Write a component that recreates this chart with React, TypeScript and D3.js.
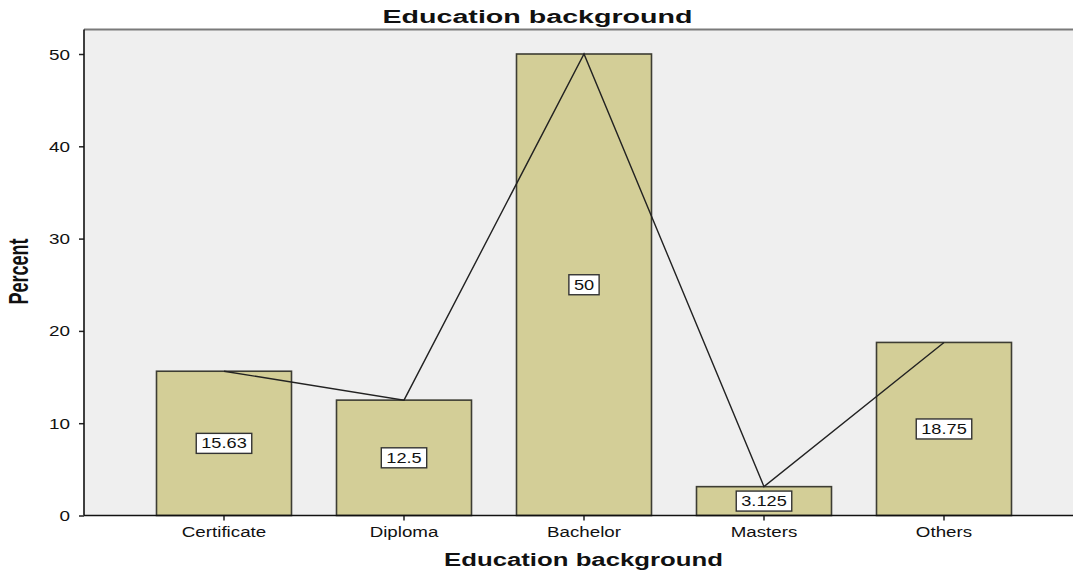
import React, { useEffect, useRef } from "react";
import * as d3 from "d3";

// Education background distribution (percent of respondents)
const categories = ["Certificate", "Diploma", "Bachelor", "Masters", "Others"];
const percents = [15.63, 12.5, 50, 3.125, 18.75];
const valueLabels = ["15.63", "12.5", "50", "3.125", "18.75"];
const yTicks = [0, 10, 20, 30, 40, 50];

const W = 1073;
const H = 571;
const FONT = "'Liberation Sans', Arial, Helvetica, sans-serif";

export default function App() {
  const ref = useRef<SVGSVGElement>(null);

  useEffect(() => {
    const svg = d3.select(ref.current);
    svg.selectAll("*").remove();

    const plot = { left: 84, top: 29.5, right: W, bottom: 515.5 };

    const x = d3
      .scaleBand<string>()
      .domain(categories)
      .range([134, 1034])
      .paddingInner(0.25)
      .paddingOuter(0.125);
    const y = d3.scaleLinear().domain([0, 50]).range([515.5, 54]);

    // plot background
    svg
      .append("rect")
      .attr("x", plot.left)
      .attr("y", plot.top)
      .attr("width", plot.right - plot.left)
      .attr("height", plot.bottom - plot.top)
      .attr("fill", "#efefef");

    // top frame line
    svg
      .append("line")
      .attr("x1", plot.left)
      .attr("x2", plot.right)
      .attr("y1", plot.top)
      .attr("y2", plot.top)
      .attr("stroke", "#7a7a7a")
      .attr("stroke-width", 2);

    const rows = categories.map((c, i) => ({ c, v: percents[i], label: valueLabels[i] }));

    // bars
    svg
      .append("g")
      .selectAll("rect")
      .data(rows)
      .join("rect")
      .attr("x", (d) => x(d.c)!)
      .attr("y", (d) => y(d.v))
      .attr("width", x.bandwidth())
      .attr("height", (d) => y(0) - y(d.v))
      .attr("fill", "#d3ce97")
      .attr("stroke", "#3d3d33")
      .attr("stroke-width", 1.6);

    // connecting line through bar tops
    const line = d3
      .line<{ c: string; v: number }>()
      .x((d) => x(d.c)! + x.bandwidth() / 2)
      .y((d) => y(d.v));
    svg
      .append("path")
      .datum(rows)
      .attr("d", line)
      .attr("fill", "none")
      .attr("stroke", "#222")
      .attr("stroke-width", 1.4);

    // axes
    const yAxis = svg
      .append("g")
      .attr("transform", `translate(${plot.left},0)`)
      .call(d3.axisLeft(y).tickValues(yTicks).tickSize(5).tickSizeOuter(0));
    yAxis.select(".domain").remove();
    yAxis.selectAll(".tick line").attr("stroke", "#222").attr("stroke-width", 1.5);
    yAxis
      .selectAll<SVGTextElement, number>(".tick text")
      .attr("font-family", FONT)
      .attr("font-size", 14)
      .attr("fill", "#111")
      .attr("x", -14 / 1.35)
      .attr("dy", "0.36em")
      .attr("transform", "scale(1.35,1)");

    const xAxis = svg
      .append("g")
      .attr("transform", `translate(0,${plot.bottom})`)
      .call(d3.axisBottom(x).tickSize(5).tickSizeOuter(0));
    xAxis.select(".domain").remove();
    xAxis.selectAll(".tick line").attr("stroke", "#222").attr("stroke-width", 1.5);
    xAxis
      .selectAll<SVGTextElement, string>(".tick text")
      .attr("font-family", FONT)
      .attr("font-size", 15)
      .attr("fill", "#111")
      .attr("y", 21.5)
      .attr("dy", 0)
      .attr("transform", "scale(1.25,1)");

    // axis lines
    svg
      .append("line")
      .attr("x1", plot.left)
      .attr("x2", plot.left)
      .attr("y1", plot.top)
      .attr("y2", plot.bottom)
      .attr("stroke", "#111")
      .attr("stroke-width", 1.6);
    svg
      .append("line")
      .attr("x1", plot.left)
      .attr("x2", plot.right)
      .attr("y1", plot.bottom)
      .attr("y2", plot.bottom)
      .attr("stroke", "#111")
      .attr("stroke-width", 1.6);

    // value labels in boxes at bar middle
    const lg = svg
      .append("g")
      .selectAll("g")
      .data(rows)
      .join("g")
      .attr(
        "transform",
        (d) => `translate(${x(d.c)! + x.bandwidth() / 2},${(y(d.v) + y(0)) / 2})`
      );
    const rects = lg
      .append("rect")
      .attr("fill", "#fff")
      .attr("stroke", "#333")
      .attr("stroke-width", 1.4);
    const texts = lg
      .append("text")
      .text((d) => d.label)
      .attr("font-family", FONT)
      .attr("font-size", 14)
      .attr("fill", "#111")
      .attr("text-anchor", "middle")
      .attr("y", 5)
      .attr("transform", "scale(1.3,1)");
    texts.each(function (_d, i) {
      const w = (this as SVGTextElement).getComputedTextLength() * 1.3;
      const bw = w + 10;
      d3.select(rects.nodes()[i])
        .attr("x", -bw / 2)
        .attr("y", -10)
        .attr("width", bw)
        .attr("height", 20);
    });

    // title
    svg
      .append("text")
      .text("Education background")
      .attr("x", 537.5)
      .attr("y", 23)
      .attr("text-anchor", "middle")
      .attr("font-family", FONT)
      .attr("font-weight", "bold")
      .attr("font-size", 18)
      .attr("fill", "#111")
      .attr("textLength", 310)
      .attr("lengthAdjust", "spacingAndGlyphs");

    // x-axis title
    svg
      .append("text")
      .text("Education background")
      .attr("x", 583.5)
      .attr("y", 566)
      .attr("text-anchor", "middle")
      .attr("font-family", FONT)
      .attr("font-weight", "bold")
      .attr("font-size", 18)
      .attr("fill", "#111")
      .attr("textLength", 279)
      .attr("lengthAdjust", "spacingAndGlyphs");

    // y-axis title
    svg
      .append("text")
      .text("Percent")
      .attr("transform", "translate(28,271.5) scale(1.5,1) rotate(-90)")
      .attr("text-anchor", "middle")
      .attr("font-family", FONT)
      .attr("font-weight", "bold")
      .attr("font-size", 18)
      .attr("fill", "#111");
  }, []);

  return (
    <svg
      ref={ref}
      width={W}
      height={H}
      style={{ position: "fixed", left: 0, top: 0, background: "#fff" }}
    />
  );
}
